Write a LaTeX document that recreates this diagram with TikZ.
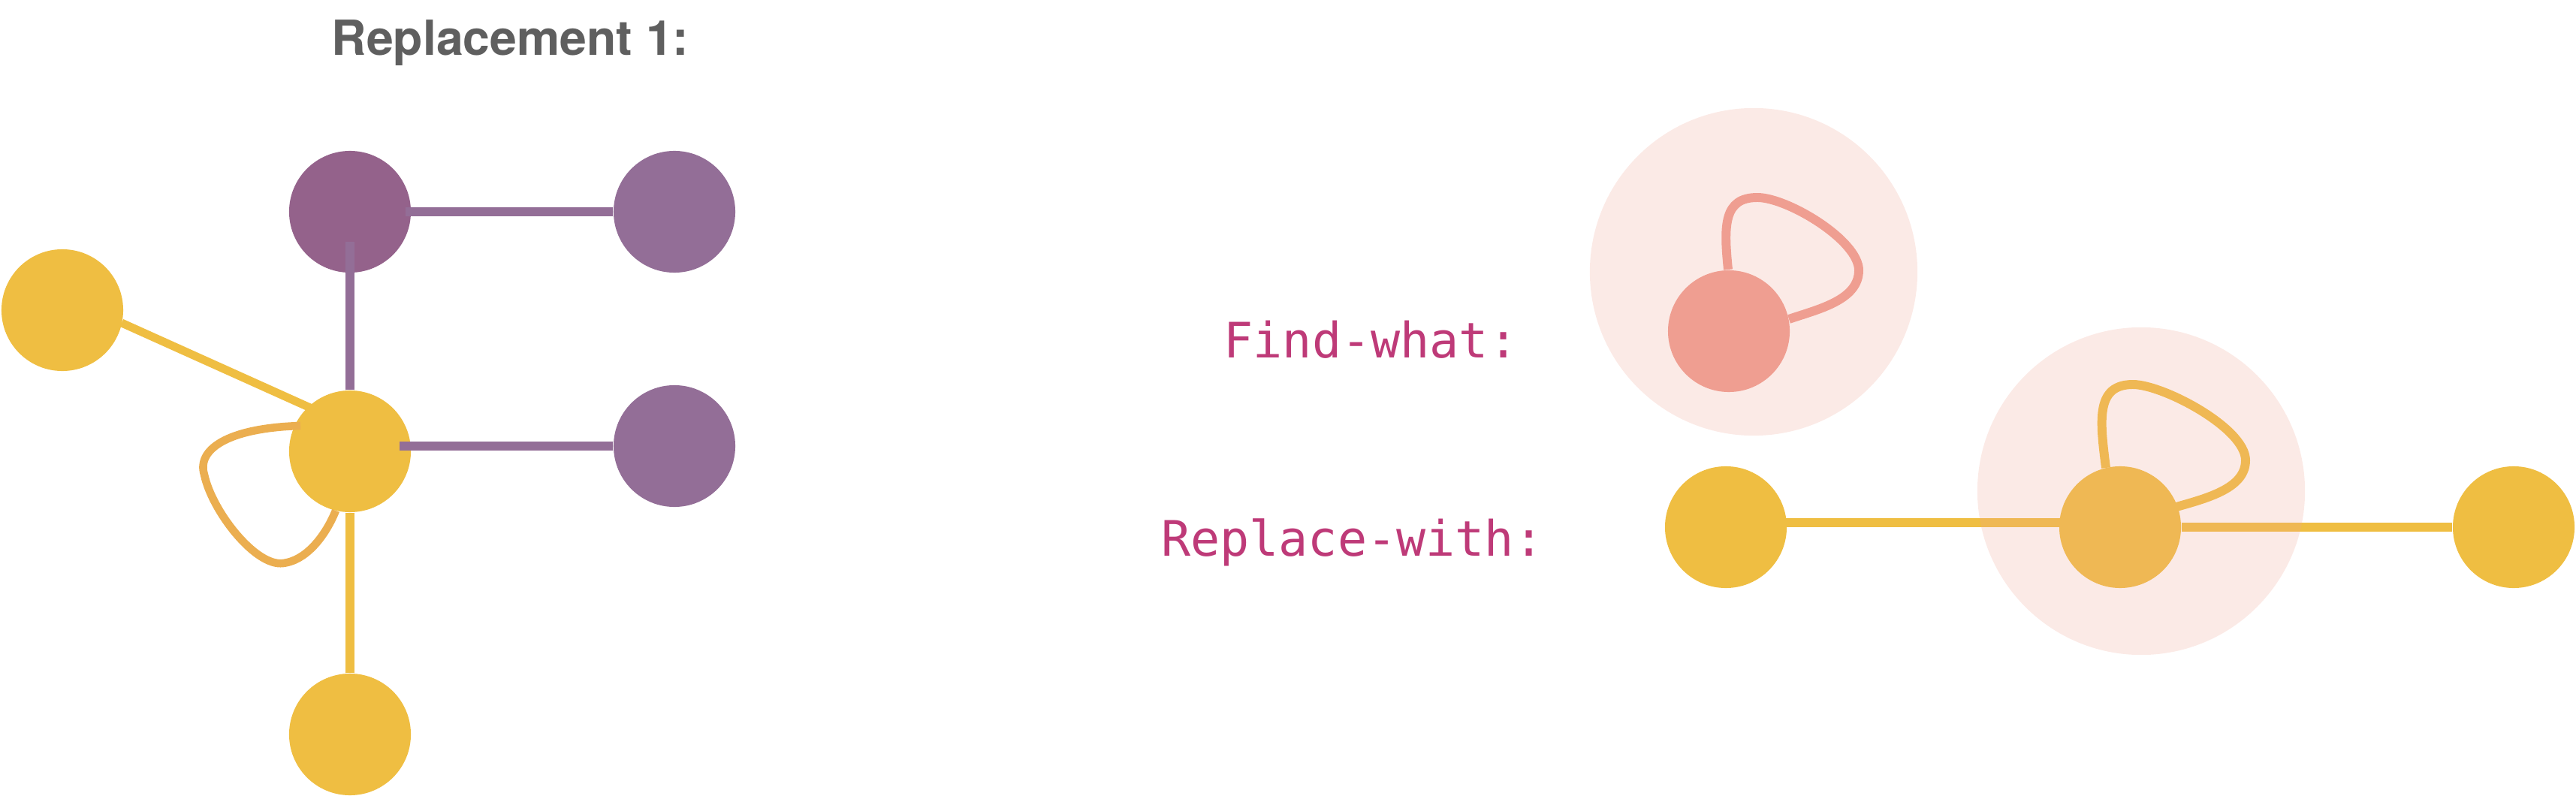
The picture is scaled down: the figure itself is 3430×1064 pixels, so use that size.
\documentclass[tikz,border=0pt]{standalone}
\usepackage{fontspec}
\newfontfamily\titlefont{TeX Gyre Heros}
\newfontfamily\codefont{DejaVu Sans Mono}
\usetikzlibrary{calc}
\definecolor{yel}{HTML}{EFBE42}
\definecolor{purpA}{HTML}{94628B}
\definecolor{purpB}{HTML}{936E97}
\definecolor{loopor}{HTML}{EBAE50}
\definecolor{pinkn}{HTML}{F09C91}
\definecolor{zonec}{HTML}{EFA594}
\definecolor{magtext}{HTML}{BE3A78}
\definecolor{graytitle}{HTML}{5F5F5F}
\tikzset{
  vtx/.style={circle, inner sep=0pt, minimum size=1.62cm, draw=none},
  zone/.style={circle, inner sep=0pt, minimum size=4.36cm, draw=none, fill=zonec, fill opacity=0.23},
  edgeline/.style={line width=3.4pt, line cap=butt},
  loopline/.style={line width=3.2pt, line cap=butt},
  codelabel/.style={inner sep=0pt, text=magtext, font=\codefont\fontsize{18.5pt}{21pt}\selectfont}
}
\begin{document}
\begin{tikzpicture}[x=0.01cm, y=-0.01cm]
\useasboundingbox (0,0) rectangle (3430,1064);
% title
\node[inner sep=0pt, anchor=base west, text=graytitle, font=\titlefont\bfseries\fontsize{18.3pt}{21pt}\selectfont] (title) at (441,74) {Replacement 1:};
% left graph nodes
\node[vtx, fill=purpA] (tp) at (466,282) {};
\node[vtx, fill=purpB] (tr) at (898,282) {};
\node[vtx, fill=yel] (ly) at (83,413) {};
\node[vtx, fill=yel] (cy) at (466,601) {};
\node[vtx, fill=purpB] (mr) at (898,594) {};
\node[vtx, fill=yel] (bn) at (466,978) {};
% left graph edges
\draw[edgeline, purpB] ($(tp)+(74,0)$) -- (tr.west);
\draw[edgeline, purpB, line width=3.2pt] ($(tp)+(0,40)$) -- (cy.north);
\draw[edgeline, purpB] ($(cy)+(66,-7)$) -- (mr.west);
\draw[edgeline, yel, line width=3.1pt] ($(ly)+(79,17)$) -- ($(cy)+(-53,-58)$);
\draw[edgeline, yel] (cy.south) -- (bn.north);
\draw[loopline, loopor, line width=3.0pt] ($(cy)+(-66,-34)$) .. controls ($(cy)+(-166,-31)$) and ($(cy)+(-204,-1)$) .. ($(cy)+(-194,31)$)
  .. controls ($(cy)+(-184,79)$) and ($(cy)+(-126,154)$) .. ($(cy)+(-89,149)$)
  .. controls ($(cy)+(-56,145)$) and ($(cy)+(-31,109)$) .. ($(cy)+(-19,79)$);
% labels
\node[codelabel, anchor=base east] (findlbl) at (2022,476) {Find-what:};
\node[codelabel, anchor=base east] (repllbl) at (2056,740) {Replace-with:};
% find-what pattern
\node[vtx, fill=pinkn] (fw) at (2302,441) {};
\draw[loopline, pinkn, line width=3.4pt] ($(fw)+(-1,-82)$) .. controls ($(fw)+(-7,-141)$) and ($(fw)+(-7,-178)$) .. ($(fw)+(38,-178)$)
  .. controls ($(fw)+(78,-178)$) and ($(fw)+(173,-121)$) .. ($(fw)+(173,-81)$)
  .. controls ($(fw)+(173,-41)$) and ($(fw)+(118,-29)$) .. ($(fw)+(80,-16)$);
\node[zone] (fwzone) at (2335,362) {};
% replace-with pattern
\node[vtx, fill=yel] (rl) at (2298,702) {};
\node[vtx, fill=yel] (rc) at (2823,702) {};
\node[vtx, fill=yel] (rr) at (3347,702) {};
\draw[edgeline, yel] ($(rl)+(80,-6)$) -- ($(rc)+(-80,-6)$);
\draw[edgeline, yel] (rc.east) -- (rr.west);
\draw[loopline, yel, line width=3.4pt] ($(rc)+(-19,-79)$) .. controls ($(rc)+(-27,-142)$) and ($(rc)+(-33,-190)$) .. ($(rc)+(17,-190)$)
  .. controls ($(rc)+(57,-190)$) and ($(rc)+(167,-132)$) .. ($(rc)+(167,-89)$)
  .. controls ($(rc)+(167,-52)$) and ($(rc)+(117,-39)$) .. ($(rc)+(75,-27)$);
\node[zone] (rczone) at (2851,654) {};
\end{tikzpicture}
\end{document}
